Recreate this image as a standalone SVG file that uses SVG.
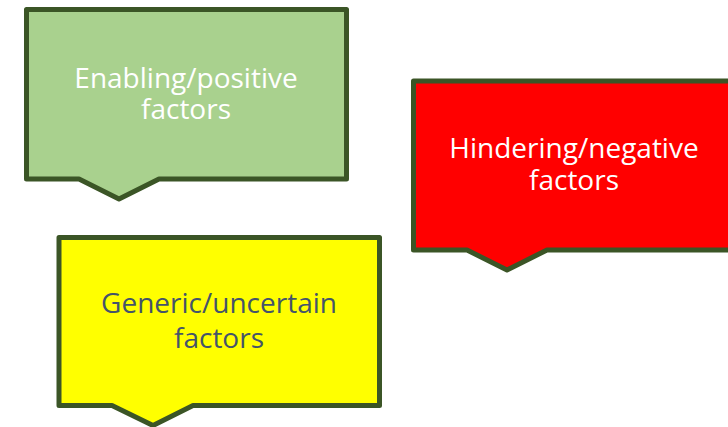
<svg xmlns="http://www.w3.org/2000/svg" width="728" height="427" viewBox="0 0 728 427">
<style>
.box{stroke:#3b5526;stroke-width:5;stroke-linejoin:round}
.t{font-family:"Open Sans","Noto Sans",sans-serif;font-size:28px;text-anchor:middle}
.w{fill:#ffffff}
.d{fill:#44546a}
</style>
<rect width="728" height="427" fill="#ffffff"/>
<g id="enabling">
<path class="box" fill="#a9d18e" d="M26.5,9.5 H346.5 V179 H159 L119,199 L79,179 H26.5 Z"/>
<text class="t w" x="186" y="88">Enabling/positive</text>
<text class="t w" x="186" y="119">factors</text>
</g>
<g id="hindering">
<path class="box" fill="#ff0000" d="M413.5,81 H740 V250 H547 L507,270 L467,250 H413.5 Z"/>
<text class="t w" x="574" y="158">Hindering/negative</text>
<text class="t w" x="574" y="190">factors</text>
</g>
<g id="generic">
<path class="box" fill="#ffff00" d="M59,237.5 H379.5 V405.5 H193 L153,425.5 L112,405.5 H59 Z"/>
<text class="t d" x="219" y="313">Generic/uncertain</text>
<text class="t d" x="219" y="348">factors</text>
</g>
<g id="connectors"/>
</svg>
